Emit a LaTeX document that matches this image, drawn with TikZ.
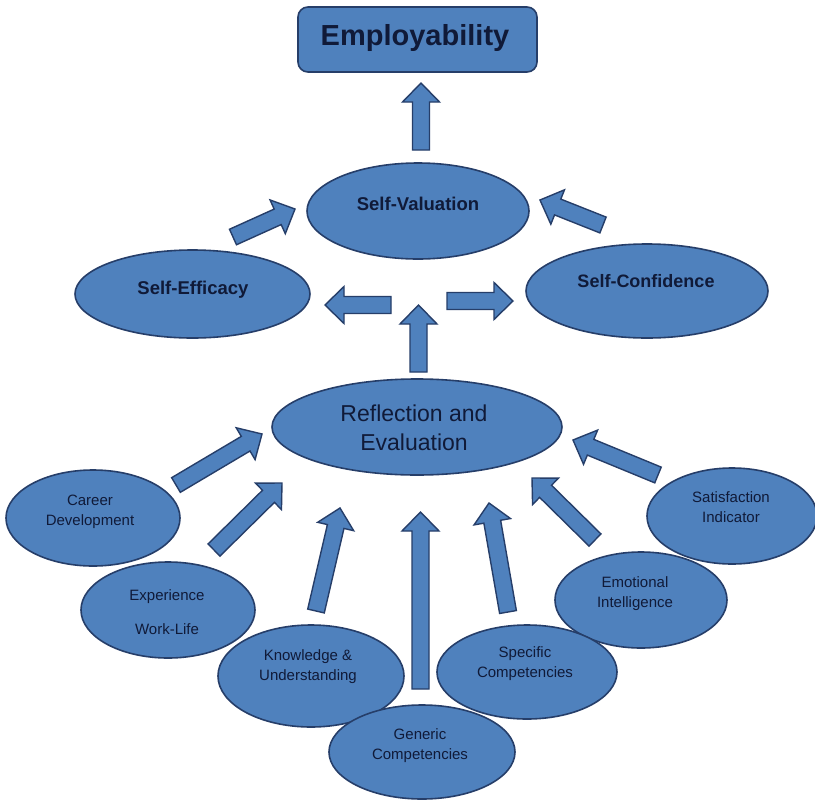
\documentclass[tikz,border=0pt]{standalone}
\usepackage{fontspec}
\setmainfont{Liberation Sans}
\usetikzlibrary{calc,shapes.geometric}
\definecolor{bfill}{RGB}{79,129,189}
\definecolor{bline}{RGB}{38,62,105}
\definecolor{btext}{RGB}{16,26,56}
\newcommand\blockarr[2]{%
  \coordinate (bA) at ($(#2)!19pt!(#1)$);
  \draw[barrow] ($(#1)!8.5pt!90:(#2)$) -- ($(bA)!8.5pt!90:(#2)$) -- ($(bA)!18.5pt!90:(#2)$) -- (#2) -- ($(bA)!18.5pt!-90:(#2)$) -- ($(bA)!8.5pt!-90:(#2)$) -- ($(#1)!8.5pt!-90:(#2)$) -- cycle;
}
\begin{document}
\begin{tikzpicture}[x=1pt,y=-1pt,
  ell/.style={ellipse, draw=bline, fill=bfill, line width=1.6pt, inner sep=0pt},
  barrow/.style={draw=bline, fill=bfill, line width=1.4pt, line join=miter},
  lbl/.style={text=btext, align=center, font=\fontsize{15}{20}\selectfont},
  lblB/.style={text=btext, font=\bfseries\fontsize{18.5}{23}\selectfont},
]
\useasboundingbox (0,0) rectangle (815,801);
\fill[white] (0,0) rectangle (815,801);

% top box
\node[draw=bline, fill=bfill, line width=1.6pt, rounded corners=10pt, minimum width=239pt, minimum height=65pt, inner sep=0pt] (emp) at (417.5,39.5) {};
\node[text=btext, font=\bfseries\fontsize{29}{34}\selectfont] (empT) at (415,38) {Employability};

% upper ellipses
\node[ell, minimum width=222pt, minimum height=96pt] (val) at (418,211) {};
\node[lblB] (valT) at (418,204) {Self-Valuation};
\node[ell, minimum width=235pt, minimum height=88pt] (eff) at (192.5,294) {};
\node[lblB] (effT) at (193,290) {Self-Efficacy};
\node[ell, minimum width=242pt, minimum height=94pt] (con) at (647,291) {};
\node[lblB, font=\bfseries\fontsize{18}{22}\selectfont] (conT) at (646,281) {Self-Confidence};

% reflection
\node[ell, minimum width=290pt, minimum height=96pt] (ref) at (417,427) {};
\node[text=btext, align=center, font=\fontsize{23}{29}\selectfont] (refT) at (414,428) {Reflection and\\Evaluation};

% lower ellipses
\node[ell, minimum width=174pt, minimum height=96pt] (car) at (93,518) {};
\node[lbl] (carT) at (90,512) {Career\\Development};
\node[ell, minimum width=174pt, minimum height=96pt] (exp) at (168,610) {};
\node[lbl] (expT) at (167,612) {Experience\\[14pt]Work-Life};
\node[ell, minimum width=186pt, minimum height=102pt] (kno) at (311,676) {};
\node[lbl] (knoT) at (308,667) {Knowledge \&\\Understanding};
\node[ell, minimum width=170pt, minimum height=96pt] (sat) at (732,516) {};
\node[lbl] (satT) at (731,507) {Satisfaction\\Indicator};
\node[ell, minimum width=172pt, minimum height=96pt] (emo) at (641,600) {};
\node[lbl] (emoT) at (635,594) {Emotional\\Intelligence};
\node[ell, minimum width=180pt, minimum height=94pt] (spe) at (527,672) {};
\node[lbl] (speT) at (525,664) {Specific\\Competencies};
\node[ell, minimum width=186pt, minimum height=94pt] (gen) at (422,752) {};
\node[lbl] (genT) at (420,746) {Generic\\Competencies};

% arrow end points
\coordinate (a0s) at (421,150);   \coordinate (a0e) at (421,83);
\coordinate (a1s) at (233,237);   \coordinate (a1e) at (295,209);
\coordinate (a2s) at (603,225);   \coordinate (a2e) at (540,200);
\coordinate (a3s) at (391,305);   \coordinate (a3e) at (325,305);
\coordinate (a4s) at (447,301);   \coordinate (a4e) at (513,301);
\coordinate (a5s) at (418.5,372); \coordinate (a5e) at (418.5,305);
\coordinate (b1s) at (176,485);   \coordinate (b1e) at (262,434);
\coordinate (b2s) at (214,550);   \coordinate (b2e) at (282,483);
\coordinate (b3s) at (316,611);   \coordinate (b3e) at (340,508);
\coordinate (b4s) at (420.5,689); \coordinate (b4e) at (420.5,512);
\coordinate (b5s) at (508,612);   \coordinate (b5e) at (489,503);
\coordinate (b6s) at (595,540);   \coordinate (b6e) at (532,478);
\coordinate (b7s) at (658,475);   \coordinate (b7e) at (573,440);

\blockarr{a0s}{a0e}
\blockarr{a1s}{a1e}
\blockarr{a2s}{a2e}
\blockarr{a3s}{a3e}
\blockarr{a4s}{a4e}
\blockarr{a5s}{a5e}
\blockarr{b1s}{b1e}
\blockarr{b2s}{b2e}
\blockarr{b3s}{b3e}
\blockarr{b4s}{b4e}
\blockarr{b5s}{b5e}
\blockarr{b6s}{b6e}
\blockarr{b7s}{b7e}
\end{tikzpicture}
\end{document}
